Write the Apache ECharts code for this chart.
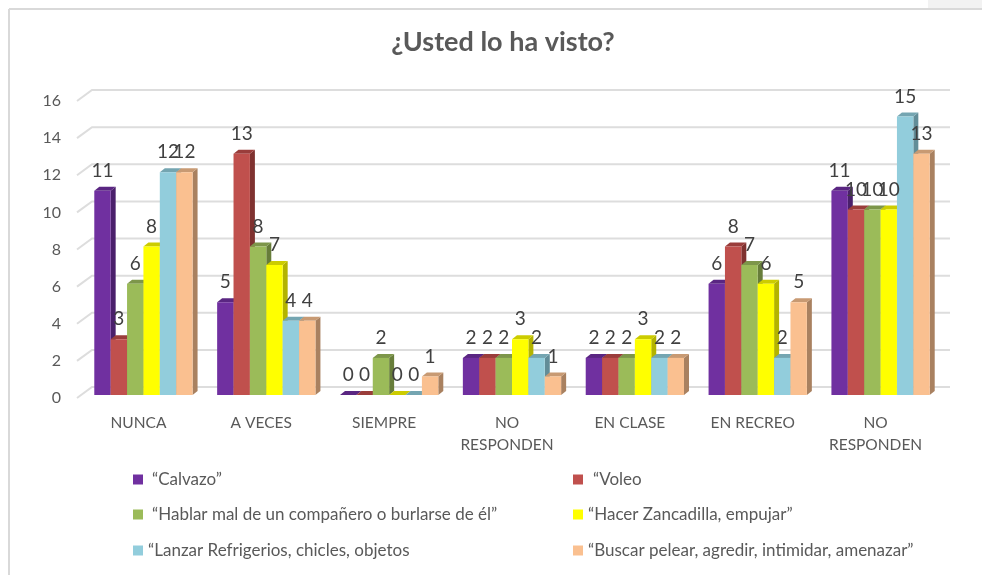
<!DOCTYPE html>
<html>
<head>
<meta charset="utf-8">
<style>html,body{margin:0;padding:0;background:#fff}#c{width:982px;height:575px}</style>
<script src="https://cdn.jsdelivr.net/npm/echarts@6/dist/echarts.min.js"></script>
</head>
<body>
<div id="c"></div>
<script>
const categories = ['NUNCA','A VECES','SIEMPRE','NO\nRESPONDEN','EN CLASE','EN RECREO','NO\nRESPONDEN'];
const tickValues = [0,2,4,6,8,10,12,14,16];
const calvazo = [11,5,0,2,2,6,11];
const voleo = [3,13,0,2,2,8,10];
const hablar = [6,8,2,2,2,7,10];
const zancadilla = [8,7,0,3,3,6,10];
const lanzar = [12,4,0,2,2,2,15];
const buscar = [12,4,1,1,2,5,13];
const names = ['“Calvazo”','“Voleo','“Hablar mal de un compañero o burlarse de él”','“Hacer Zancadilla, empujar”','“Lanzar Refrigerios, chicles, objetos','“Buscar pelear, agredir, intimidar, amenazar”'];
const values = [calvazo,voleo,hablar,zancadilla,lanzar,buscar];
const fronts = ['#7030A0','#C0504D','#9BBB59','#FFFF00','#92CDDC','#FAC090'];
const sides = ['#4A1F6B','#7F3230','#677D3A','#B3B300','#628D98','#A98160'];
const tops = ['#5A2682','#9A3D3B','#7D964A','#CCCC00','#74A5B1','#C89A73'];
const FONT = 'Lato';
const TXT = '#595959';
const groupFrac = 0.8, sideDx = 5, sideDy = 4, offX = 5, offY = 3;

function barGeom(api, s) {
  const cat = api.value(0), v = api.value(1);
  const band = api.size([1,0])[0];
  const w = band * groupFrac / 6;
  const c0 = api.coord([cat, 0]);
  const c1 = api.coord([cat, v]);
  const xl = c0[0] - band * groupFrac / 2 + offX + s * w;
  return {xl, xr: xl + w, base: c0[1] - offY, top: c1[1] - offY, w};
}

const barSeries = names.map((name, s) => ({
  type: 'custom', name, z: 3 + s,
  itemStyle: {color: fronts[s]},
  data: values[s].map((v, i) => [i, v]),
  encode: {x: 0, y: 1},
  renderItem(params, api) {
    const g = barGeom(api, s);
    return {type: 'group', children: [
      {type: 'polygon', shape: {points: [[g.xr,g.base],[g.xr+sideDx,g.base-sideDy],[g.xr+sideDx,g.top-sideDy],[g.xr,g.top]]}, style: {fill: sides[s]}},
      {type: 'polygon', shape: {points: [[g.xl,g.top],[g.xl+sideDx,g.top-sideDy],[g.xr+sideDx,g.top-sideDy],[g.xr,g.top]]}, style: {fill: tops[s]}},
      {type: 'rect', shape: {x: g.xl, y: g.top, width: g.w, height: g.base - g.top}, style: {fill: fronts[s]}}
    ]};
  }
}));

const labelData = [];
values.forEach((arr, s) => arr.forEach((v, i) => labelData.push([i, v, s])));

const legendPos = [[133,471,4],[573,471,5],[133,506,4],[573,506,0],[133,542,0],[573,542,0]];

const option = {
  animation: false,
  backgroundColor: '#fff',
  title: {text: '¿Usted lo ha visto?', left: 498, top: 24, textAlign: 'center',
    textStyle: {fontFamily: FONT, fontSize: 27, fontWeight: 'bold', color: TXT}},
  grid: {left: 77, top: 101, width: 860, height: 297},
  xAxis: {type: 'category', data: categories, boundaryGap: true,
    axisLine: {show: false}, axisTick: {show: false},
    axisLabel: {interval: 0, margin: 14, fontFamily: FONT, fontSize: 15.5, lineHeight: 22, color: TXT}},
  yAxis: {type: 'value', min: 0, max: 16, interval: 2,
    axisLine: {show: false}, axisTick: {show: false}, splitLine: {show: false},
    axisLabel: {margin: 16, fontFamily: FONT, fontSize: 16, color: TXT}},
  legend: names.map((n, i) => ({
    data: [{name: n, icon: 'rect', itemStyle: {color: fronts[i]}}],
    left: legendPos[i][0], top: legendPos[i][1], padding: 0,
    itemWidth: 10, itemHeight: 10, selectedMode: false,
    textStyle: {fontFamily: FONT, fontSize: 17, color: TXT, padding: [0,0,0,legendPos[i][2]]}
  })),
  graphic: [
    {type: 'rect', shape: {x: 928, y: 0, width: 54, height: 8}, style: {fill: '#F2F2F2'}, silent: true},
    {type: 'line', shape: {x1: 9, y1: 9, x2: 982, y2: 9}, style: {stroke: '#D9D9D9', lineWidth: 2}, silent: true},
    {type: 'line', shape: {x1: 9, y1: 9, x2: 9, y2: 575}, style: {stroke: '#D9D9D9', lineWidth: 2}, silent: true}
  ],
  series: [
    {type: 'custom', name: 'Cuadrícula', z: 1, silent: true,
      data: tickValues.map(v => [0, v]), encode: {x: 0, y: 1},
      renderItem(params, api) {
        const y = api.coord([0, api.value(1)])[1];
        const x0 = params.coordSys.x, x1 = x0 + params.coordSys.width;
        return {type: 'polyline', shape: {points: [[x0,y],[x0+15,y-11],[x1+13,y-11]]},
          style: {stroke: '#DDDDDD', lineWidth: 2, fill: 'none'}};
      }},
    ...barSeries,
    {type: 'custom', name: 'Etiquetas', z: 20, silent: true,
      data: labelData, encode: {x: 0, y: 1},
      renderItem(params, api) {
        const g = barGeom(api, api.value(2));
        return {type: 'text', style: {x: (g.xl + g.xr) / 2, y: g.top - 20, text: String(api.value(1)),
          align: 'center', verticalAlign: 'middle', fontFamily: FONT, fontSize: 19, fill: '#404040'}};
      }}
  ]
};
echarts.init(document.getElementById('c'), null, {renderer: 'canvas'}).setOption(option);
</script>
</body>
</html>
